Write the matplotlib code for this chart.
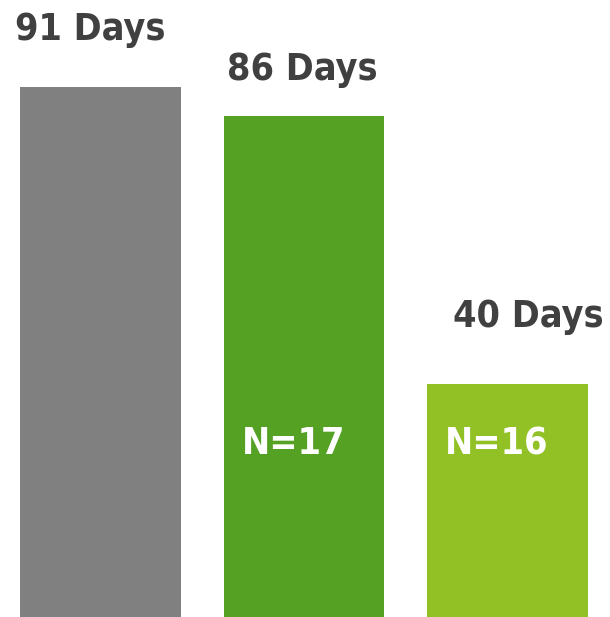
import matplotlib
matplotlib.use("Agg")
import matplotlib.pyplot as plt

categories = ["Baseline", "Group A", "Group B"]
days = [91, 86, 40]
n_labels = ["", "N=17", "N=16"]
colors = ["#808080", "#55a124", "#91c124"]

# label offsets in pixels relative to each bar's top centre
label_dx = [-10, -2, 21]
label_dy = [57, 46, 67]

fig = plt.figure(figsize=(6.10, 6.17), dpi=100)
ax = fig.add_axes([0, 0, 1, 1])
x = list(range(len(categories)))
bars = ax.bar(x, days, width=0.791, color=colors)
ax.set_xlim(-0.4939, 2.5037)
ax.set_ylim(0, 105.9)
ax.axis("off")

font = dict(family=["DejaVu Sans"], weight="bold", stretch="condensed")
for xi, d, dx, dy in zip(x, days, label_dx, label_dy):
    ax.annotate(f"{d} Days", xy=(xi, d), xytext=(dx, dy), textcoords="offset pixels",
                ha="center", va="center", fontsize=27, color="#404040", **font)

for b, lab in zip(bars, n_labels):
    if lab:
        ax.annotate(lab, xy=(b.get_x(), 30), xytext=(18, -2), textcoords="offset pixels",
                    ha="left", va="center", fontsize=27, color="white", **font)

fig.savefig("out.png", dpi=100)
